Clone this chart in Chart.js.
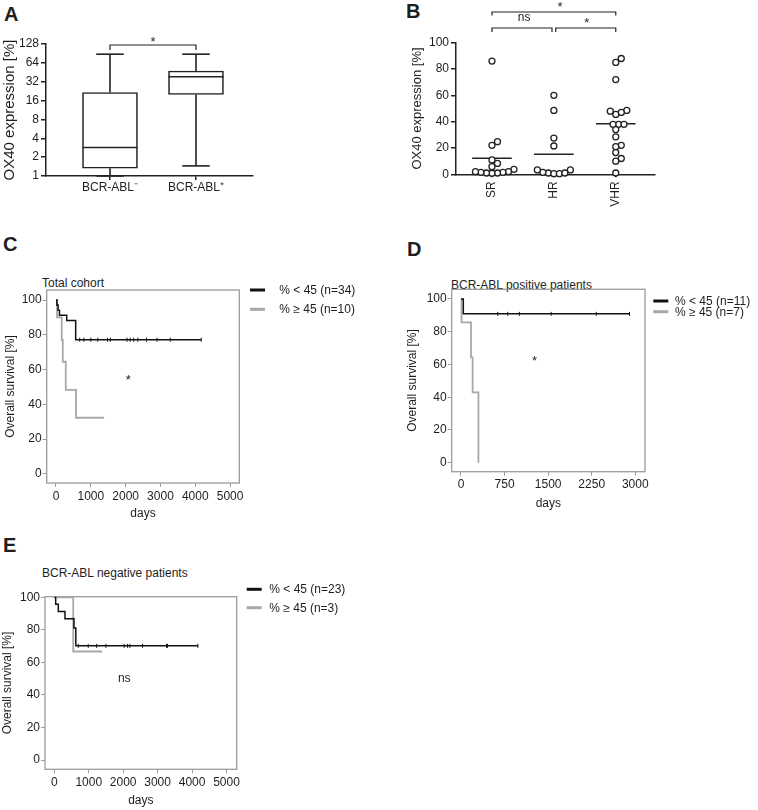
<!DOCTYPE html>
<html>
<head>
<meta charset="utf-8">
<script src="https://cdn.jsdelivr.net/npm/chart.js@4/dist/chart.umd.min.js"></script>
<style>
  body { margin: 0; background: #fff; width: 758px; height: 810px; position: relative; overflow: hidden;
         font-family: "Liberation Sans", Arial, sans-serif; color: #1e1e1e; }
  .lbl { position: absolute; font-weight: bold; font-size: 20px; line-height: 20px; }
  .ttl { position: absolute; font-size: 12px; line-height: 12px; white-space: nowrap; }
  canvas { position: absolute; }
</style>
</head>
<body>
<div class="lbl" style="left:4px;top:4px">A</div>
<div class="lbl" style="left:406px;top:1px">B</div>
<div class="lbl" style="left:3px;top:234px">C</div>
<div class="lbl" style="left:407px;top:239px">D</div>
<div class="lbl" style="left:3px;top:535px">E</div>
<div class="ttl" style="left:42px;top:277px">Total cohort</div>
<div class="ttl" style="left:451px;top:279px">BCR-ABL positive patients</div>
<div class="ttl" style="left:42px;top:567px">BCR-ABL negative patients</div>

<canvas id="cA" width="262" height="200" style="left:0;top:0"></canvas>
<canvas id="cB" width="280" height="230" style="left:380px;top:0"></canvas>
<canvas id="cC" width="380" height="270" style="left:0;top:260px"></canvas>
<canvas id="cD" width="370" height="260" style="left:390px;top:260px"></canvas>
<canvas id="cE" width="380" height="250" style="left:0;top:560px"></canvas>

<script>
// ---- A: OX40 nach BCR-ABL (Box-Plot, log2) ----
const groupsA = ['BCR-ABL\u207B', 'BCR-ABL\u207A'];
const minA = [1, 1.45];
const q1A = [1.33, 20];
const medA = [2.85, 38.5];
const q3A = [21.5, 47.5];
const maxA = [88, 88];
const ticksA = [1, 2, 4, 8, 16, 32, 64, 128];

// ---- B: OX40 nach Risikogruppe (Einzelwerte) ----
const groupsB = ['SR', 'HR', 'VHR'];
const srB = [86, 24.8, 22, 10.9, 8.3, 5.8, 3.8, 2, 1.5, 1, 0.8, 1, 1.5, 2];
const hrB = [60, 48.5, 27.5, 21.5, 3.3, 1, 0.5, 0.5, 1, 1.5, 3.3];
const vhrB = [88, 85, 72, 48.5, 47, 45.5, 48, 38, 38, 38, 34, 28.5, 22, 21, 16.5, 12, 10, 1];
const valsB = [srB, hrB, vhrB];
const ticksB = [0, 20, 40, 60, 80, 100];

// ---- C-E: Kaplan-Meier ----
const ticksSurv = [0, 20, 40, 60, 80, 100];
const days5000 = [0, 1000, 2000, 3000, 4000, 5000];
const days3000 = [0, 750, 1500, 2250, 3000];
const legC = ['% < 45 (n=34)', '% \u2265 45 (n=10)'];
const legD = ['% < 45 (n=11)', '% \u2265 45 (n=7)'];
const legE = ['% < 45 (n=23)', '% \u2265 45 (n=3)'];

// C: total cohort
const cLowT = [0, 25, 60, 100, 308, 565];
const cLowS = [100, 97.1, 94.1, 91.2, 88.2, 77.2];
const cLowEnd = 4170;
const cLowCens = [680, 800, 1000, 1200, 1480, 1560, 2040, 2130, 2230, 2350, 2600, 2900, 3280, 4170];
const cHighT = [0, 30, 165, 195, 280, 576];
const cHighS = [100, 90, 77, 64.5, 48.3, 32.3];
const cHighEnd = 1380;

// D: BCR-ABL positive
const dLowT = [0, 40];
const dLowS = [100, 90.9];
const dLowEnd = 2900;
const dLowCens = [633, 805, 1005, 1552, 2328, 2900];
const dHighT = [0, 10, 172, 200, 300];
const dHighS = [100, 85.7, 64.3, 42.9, 0];
const dHighEnd = 300;

// E: BCR-ABL negative
const eLowT = [0, 40, 116, 310, 571, 625];
const eLowS = [100, 95.7, 91.3, 86.9, 81.1, 70.2];
const eLowEnd = 4170;
const eLowCens = [696, 986, 1229, 1499, 2029, 2128, 2194, 2562, 3258, 3287, 4170];
const eHighT = [0, 550];
const eHighS = [100, 66.7];
const eHighEnd = 1390;

const FONT = '"Liberation Sans", Arial, sans-serif';
const INK = '#222222';
const TEXT = '#1e1e1e';
const GREY = '#a8a8a8';
const FRAME = '#9c9c9c';

Chart.defaults.font.family = FONT;
Chart.defaults.font.size = 12;
Chart.defaults.color = TEXT;

const setTicks = arr => scale => { scale.ticks = arr.map(v => ({ value: v })); };
const plain = v => String(v);

// Whisker und Median fuer die Boxen
const boxPlugin = {
  id: 'boxWhiskers',
  afterDatasetsDraw(chart, args, o) {
    const { ctx } = chart;
    const y = chart.scales.y;
    ctx.save();
    ctx.strokeStyle = INK;
    ctx.lineWidth = 1.6;
    const line = (x1, y1, x2, y2) => { ctx.beginPath(); ctx.moveTo(x1, y1); ctx.lineTo(x2, y2); ctx.stroke(); };
    chart.getDatasetMeta(0).data.forEach((bar, i) => {
      const cx = bar.x, half = bar.width / 2, cap = half * 0.5;
      const pMed = y.getPixelForValue(o.med[i]);
      const pMax = y.getPixelForValue(o.max[i]);
      const pMin = y.getPixelForValue(o.min[i]);
      line(cx - half, pMed, cx + half, pMed);
      line(cx, y.getPixelForValue(o.q3[i]), cx, pMax);
      line(cx - cap, pMax, cx + cap, pMax);
      line(cx, y.getPixelForValue(o.q1[i]), cx, pMin);
      line(cx - cap, pMin, cx + cap, pMin);
    });
    ctx.restore();
  }
};

// Signifikanz-Klammern und Beschriftungen
const notesPlugin = {
  id: 'notes',
  afterDraw(chart, args, o) {
    const { ctx } = chart;
    const x = chart.scales.x, y = chart.scales.y;
    ctx.save();
    ctx.strokeStyle = INK;
    ctx.lineWidth = 1.2;
    ctx.fillStyle = TEXT;
    (o.brackets || []).forEach(b => {
      const x1 = x.getPixelForValue(b.x1), x2 = x.getPixelForValue(b.x2);
      ctx.beginPath();
      ctx.moveTo(x1, b.py + b.drop);
      ctx.lineTo(x1, b.py);
      ctx.lineTo(x2, b.py);
      ctx.lineTo(x2, b.py + b.drop);
      ctx.stroke();
    });
    ctx.textAlign = 'center';
    ctx.textBaseline = 'middle';
    (o.texts || []).forEach(t => {
      ctx.font = (t.size || 13) + 'px ' + FONT;
      const py = t.py !== undefined ? t.py : y.getPixelForValue(t.y);
      ctx.fillText(t.text, x.getPixelForValue(t.x), py);
    });
    ctx.restore();
  }
};

// grauer Rahmen um die Kaplan-Meier-Flaeche
const framePlugin = {
  id: 'frame',
  beforeDatasetsDraw(chart) {
    const { ctx, chartArea: a } = chart;
    ctx.save();
    ctx.strokeStyle = FRAME;
    ctx.lineWidth = 1.3;
    ctx.strokeRect(a.left, a.top, a.width, a.height);
    ctx.restore();
  }
};

// Legende rechts neben dem Rahmen
const kmLegend = {
  id: 'kmLegend',
  afterDraw(chart, args, o) {
    const { ctx, chartArea: a } = chart;
    ctx.save();
    ctx.font = '12px ' + FONT;
    ctx.textBaseline = 'middle';
    ctx.textAlign = 'left';
    [0, 1].forEach(i => {
      const ds = chart.data.datasets[i];
      const x0 = a.right + o.dx, yy = a.top + o.dy + i * o.step;
      ctx.strokeStyle = ds.borderColor;
      ctx.lineWidth = 3;
      ctx.beginPath(); ctx.moveTo(x0, yy); ctx.lineTo(x0 + 15, yy); ctx.stroke();
      ctx.fillStyle = TEXT;
      ctx.fillText(ds.label, x0 + 15 + o.gap, yy + 0.5);
    });
    ctx.restore();
  }
};

// ---------- A ----------
new Chart(document.getElementById('cA'), {
  type: 'bar',
  data: {
    datasets: [{
      data: groupsA.map((g, i) => ({ x: i + 1, y: [q1A[i], q3A[i]] })),
      backgroundColor: '#ffffff',
      borderColor: INK,
      borderWidth: 1.6,
      borderSkipped: false,
      barThickness: 55
    }]
  },
  options: {
    responsive: false, animation: false, events: [],
    layout: { padding: { left: 0, top: 44, right: 9, bottom: 0 } },
    plugins: {
      legend: { display: false }, tooltip: { enabled: false },
      boxWhiskers: { min: minA, q1: q1A, med: medA, q3: q3A, max: maxA },
      notes: {
        brackets: [{ x1: 1, x2: 2, py: 45, drop: 5 }],
        texts: [{ text: '*', x: 1.5, py: 42 }]
      }
    },
    scales: {
      x: {
        type: 'linear', min: 0.256, max: 2.663, offset: false,
        afterBuildTicks: setTicks([1, 2]),
        afterFit: s => { s.height = 24; },
        ticks: { callback: v => groupsA[v - 1], padding: 0, maxRotation: 0, autoSkip: false, color: TEXT },
        grid: { offset: false, drawOnChartArea: false, tickLength: 4, color: INK, lineWidth: 1.5 },
        border: { color: INK, width: 1.5 }
      },
      y: {
        type: 'logarithmic', min: 1, max: 128,
        afterBuildTicks: setTicks(ticksA),
        afterFit: s => { s.width = 46; },
        ticks: { callback: plain, padding: 2, color: TEXT },
        grid: { drawOnChartArea: false, tickLength: 5, color: INK, lineWidth: 1.5 },
        border: { color: INK, width: 1.5 },
        title: { display: true, text: 'OX40 expression [%]', font: { size: 15 }, padding: { top: 0.8, bottom: 0 } }
      }
    }
  },
  plugins: [boxPlugin, notesPlugin]
});

// ---------- B ----------
const mean = arr => arr.reduce((s, v) => s + v, 0) / arr.length;
const chartB = new Chart(document.getElementById('cB'), {
  type: 'scatter',
  data: {
    datasets: [
      ...valsB.map((vals, gi) => ({
        label: groupsB[gi],
        data: vals.map(v => ({ x: gi + 1, y: v })),
        pointRadius: 3,
        pointBorderWidth: 1.3,
        pointBackgroundColor: '#ffffff',
        pointBorderColor: INK,
        clip: false
      })),
      ...valsB.map((vals, gi) => ({
        type: 'line',
        data: [{ x: gi + 1 - 0.32, y: mean(vals) }, { x: gi + 1 + 0.32, y: mean(vals) }],
        borderColor: INK,
        borderWidth: 1.5,
        pointRadius: 0
      }))
    ]
  },
  options: {
    responsive: false, animation: false, events: [],
    layout: { padding: { left: 22, top: 42.7, right: 5, bottom: 0 } },
    plugins: {
      legend: { display: false }, tooltip: { enabled: false },
      notes: {
        brackets: [
          { x1: 1, x2: 3, py: 12, drop: 3.5 },
          { x1: 1, x2: 1.97, py: 28, drop: 4 },
          { x1: 2.03, x2: 3, py: 28, drop: 4 }
        ],
        texts: [
          { text: '*', x: 2.1, py: 7 },
          { text: 'ns', x: 1.52, py: 18, size: 12 },
          { text: '*', x: 2.53, py: 23.5 }
        ]
      }
    },
    scales: {
      x: {
        type: 'linear', min: 0.419, max: 3.629,
        afterBuildTicks: setTicks([1, 2, 3]),
        afterFit: s => { s.height = 55.7; },
        ticks: { callback: v => groupsB[v - 1], padding: 4, minRotation: 90, maxRotation: 90, autoSkip: false, color: TEXT },
        grid: { drawOnChartArea: false, tickLength: 3, color: INK, lineWidth: 1.5 },
        border: { color: INK, width: 1.5 }
      },
      y: {
        type: 'linear', min: 0, max: 100,
        afterBuildTicks: setTicks(ticksB),
        afterFit: s => { s.width = 54; },
        ticks: { callback: plain, padding: 2, color: TEXT },
        grid: { drawOnChartArea: false, tickLength: 5, color: INK, lineWidth: 1.5 },
        border: { color: INK, width: 1.5 },
        title: { display: true, text: 'OX40 expression [%]', font: { size: 13 }, padding: { top: 7.2, bottom: 0 } }
      }
    }
  },
  plugins: [notesPlugin]
});

// Punkte nebeneinander legen, damit sie sich nicht verdecken
(function swarm(chart) {
  const x = chart.scales.x, y = chart.scales.y;
  const unit = x.getPixelForValue(1) - x.getPixelForValue(0);
  const STEP = 2.75, MIN = 5.5;
  valsB.forEach((vals, gi) => {
    const placed = [];
    const order = vals.map((v, i) => i).sort((a, b) => vals[a] - vals[b]);
    order.forEach(i => {
      const py = y.getPixelForValue(vals[i]);
      let off = 0;
      for (let k = 0; k < 80; k++) {
        const c = (k % 2 ? 1 : -1) * Math.ceil(k / 2) * STEP;
        if (placed.every(p => Math.hypot(p.x - c, p.y - py) >= MIN)) { off = c; break; }
      }
      placed.push({ x: off, y: py });
      chart.data.datasets[gi].data[i].x = gi + 1 + off / unit;
    });
  });
  chart.update('none');
})(chartB);

// ---------- Kaplan-Meier ----------
function kmPoints(t, s, end) {
  const pts = t.map((d, i) => ({ x: d, y: s[i] }));
  if (end > t[t.length - 1]) pts.push({ x: end, y: s[s.length - 1] });
  return pts;
}
function survAt(t, s, day) {
  let v = s[0];
  t.forEach((d, i) => { if (d <= day) v = s[i]; });
  return v;
}

function kmChart(id, c) {
  const datasets = [
    { label: c.labels[0], data: kmPoints(c.lowT, c.lowS, c.lowEnd), borderColor: '#111111', borderWidth: 1.5,
      stepped: 'before', pointRadius: 0, fill: false },
    { label: c.labels[1], data: kmPoints(c.highT, c.highS, c.highEnd), borderColor: GREY, borderWidth: 1.8,
      stepped: 'before', pointRadius: 0, fill: false },
    { type: 'scatter', data: c.lowCens.map(d => ({ x: d, y: survAt(c.lowT, c.lowS, d) })),
      pointStyle: 'line', rotation: 90, pointRadius: 2, borderColor: '#111111', borderWidth: 1 }
  ];
  return new Chart(document.getElementById(id), {
    type: 'line',
    data: { datasets },
    options: {
      responsive: false, animation: false, events: [],
      layout: { padding: { left: 0, top: c.top, right: c.right, bottom: 0 } },
      plugins: {
        legend: { display: false }, tooltip: { enabled: false },
        kmLegend: c.legend,
        notes: { texts: c.notes }
      },
      scales: {
        x: {
          type: 'linear', min: c.xMin, max: c.xMax,
          afterBuildTicks: setTicks(c.xTicks),
          afterFit: s => { s.height = c.xH; },
          ticks: { callback: plain, padding: 2, maxRotation: 0, autoSkip: false, color: TEXT },
          grid: { drawOnChartArea: false, tickLength: 4, color: FRAME, lineWidth: 1 },
          border: { display: false },
          title: { display: true, text: 'days', padding: { top: 0, bottom: c.daysPad } }
        },
        y: {
          type: 'linear', min: c.yMin, max: c.yMax,
          afterBuildTicks: setTicks(ticksSurv),
          afterFit: s => { s.width = c.yW; },
          ticks: { callback: plain, padding: 1, color: TEXT },
          grid: { drawOnChartArea: false, tickLength: 4, color: FRAME, lineWidth: 1 },
          border: { display: false },
          title: { display: true, text: 'Overall survival [%]', padding: { top: c.yTitlePad, bottom: 0 } }
        }
      }
    },
    plugins: [framePlugin, kmLegend, notesPlugin]
  });
}

kmChart('cC', {
  labels: legC, lowT: cLowT, lowS: cLowS, lowEnd: cLowEnd, lowCens: cLowCens,
  highT: cHighT, highS: cHighS, highEnd: cHighEnd,
  top: 30, right: 140.7, yW: 46.7, xH: 47, yTitlePad: 3, daysPad: 9,
  xMin: -267, xMax: 5264, yMin: -5.2, yMax: 105.75, xTicks: days5000,
  legend: { dx: 10.7, dy: 0, step: 19.3, gap: 14.3 },
  notes: [{ text: '*', x: 2075, y: 53.7 }]
});

kmChart('cD', {
  labels: legD, lowT: dLowT, lowS: dLowS, lowEnd: dLowEnd, lowCens: dLowCens,
  highT: dHighT, highS: dHighS, highEnd: dHighEnd,
  top: 29.3, right: 115, yW: 61.7, xH: 48.3, yTitlePad: 15.8, daysPad: 9,
  xMin: -160, xMax: 3167, yMin: -5.5, yMax: 105.9, xTicks: days3000,
  legend: { dx: 8.3, dy: 11.7, step: 10.7, gap: 6.7 },
  notes: [{ text: '*', x: 1264, y: 61.8 }]
});

kmChart('cE', {
  labels: legE, lowT: eLowT, lowS: eLowS, lowEnd: eLowEnd, lowCens: eLowCens,
  highT: eHighT, highS: eHighS, highEnd: eHighEnd,
  top: 36.7, right: 143.3, yW: 45, xH: 40.7, yTitlePad: 0.5, daysPad: 2,
  xMin: -270, xMax: 5296, yMin: -5.7, yMax: 100.4, xTicks: days5000,
  legend: { dx: 10, dy: -7.4, step: 18.4, gap: 7.6 },
  notes: [{ text: 'ns', x: 2030, y: 49.8, size: 12 }]
});
</script>
</body>
</html>
